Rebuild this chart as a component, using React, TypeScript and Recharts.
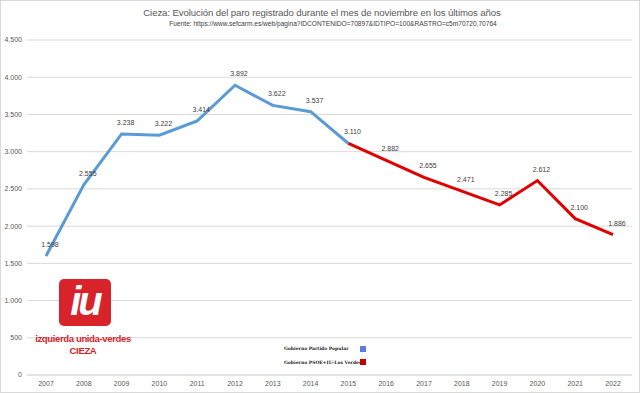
import { CartesianGrid, LabelList, Line, LineChart, XAxis, YAxis } from 'recharts';

const years = ['2007', '2008', '2009', '2010', '2011', '2012', '2013', '2014', '2015', '2016', '2017', '2018', '2019', '2020', '2021', '2022'];
const ppValues = [1598, 2555, 3238, 3222, 3414, 3892, 3622, 3537, 3110, null, null, null, null, null, null, null];
const psoeValues = [null, null, null, null, null, null, null, null, 3110, 2882, 2655, 2471, 2285, 2612, 2100, 1886];
const yTicks = [0, 500, 1000, 1500, 2000, 2500, 3000, 3500, 4000, 4500];

const chartData = years.map((year, i) => ({ year, pp: ppValues[i], psoe: psoeValues[i] }));

const fmt = (v: number) => v.toLocaleString('de-DE');

const font = '"Liberation Sans", Arial, sans-serif';

function PointLabel(props: any) {
  const { x, y, value, index, skip } = props;
  if (value == null || index === skip) return null;
  return (
    <text x={x + 4} y={y - 9} textAnchor="middle" fontSize={7} fill="#404040" fontFamily={font}>
      {fmt(value)}
    </text>
  );
}

export default function App() {
  return (
    <div style={{ position: 'fixed', left: 0, top: 0, width: 640, height: 393, background: '#fff', boxSizing: 'border-box', border: '1px solid #d9d9d9' }}>
      <div style={{ position: 'absolute', left: 0, top: 6, width: 642, textAlign: 'center', fontFamily: font, fontSize: 9.6, color: '#595959', letterSpacing: -0.1 }}>
        Cieza: Evolución del paro registrado durante el mes de noviembre en los últimos años
      </div>
      <div style={{ position: 'absolute', left: 0, top: 19, width: 664, textAlign: 'center', fontFamily: font, fontSize: 6.6, color: '#404040' }}>
        Fuente: https://www.sefcarm.es/web/pagina?IDCONTENIDO=70897&amp;IDTIPO=100&amp;RASTRO=c5m70720,70764
      </div>
      <div style={{ position: 'absolute', left: -1, top: -1 }}>
        <LineChart width={640} height={393} data={chartData} margin={{ top: 40, right: 8, bottom: 0, left: 0 }}>
          <CartesianGrid vertical={false} stroke="#d9d9d9" />
          <XAxis
            dataKey="year"
            padding={{ left: 19, right: 19 }}
            axisLine={{ stroke: '#d9d9d9' }}
            tickLine={false}
            tickSize={0}
            tickMargin={6}
            height={18}
            interval={0}
            tick={{ fontSize: 7, fill: '#595959', fontFamily: font }}
          />
          <YAxis
            width={27}
            domain={[0, 4500]}
            ticks={yTicks}
            interval={0}
            axisLine={false}
            tickLine={false}
            tickSize={0}
            tickMargin={5}
            tickFormatter={fmt}
            tick={{ fontSize: 7, fill: '#595959', fontFamily: font }}
          />
          <Line dataKey="pp" stroke="#5b9bd5" strokeWidth={3} dot={false} isAnimationActive={false} connectNulls={false}>
            <LabelList dataKey="pp" content={(p: any) => <PointLabel {...p} skip={-1} />} />
          </Line>
          <Line dataKey="psoe" stroke="#e00000" strokeWidth={3} dot={false} isAnimationActive={false} connectNulls={false}>
            <LabelList dataKey="psoe" content={(p: any) => <PointLabel {...p} skip={8} />} />
          </Line>
        </LineChart>
      </div>
      {/* logo */}
      <div style={{ position: 'absolute', left: 58, top: 278, width: 52, height: 47, background: '#d8232a', borderRadius: 5, color: '#fff', fontFamily: font, fontWeight: 'bold', fontStyle: 'italic', fontSize: 40, lineHeight: '44px', textAlign: 'center', letterSpacing: -3 }}>
        iu
      </div>
      <div style={{ position: 'absolute', left: 20, top: 332, width: 124, textAlign: 'center', fontFamily: font, fontWeight: 'bold', fontSize: 9.6, lineHeight: '12px', color: '#d8232a', letterSpacing: -0.4 }}>
        izquierda unida-verdes
        <br />
        CIEZA
      </div>
      {/* legend */}
      <div style={{ position: 'absolute', left: 283, top: 344, fontFamily: '"DejaVu Serif", serif', fontWeight: 'bold', fontSize: 4.5, color: '#222', lineHeight: '8px' }}>
        Gobierno Partido Popular
      </div>
      <div style={{ position: 'absolute', left: 359, top: 345, width: 6, height: 6, background: '#5b7fe0' }} />
      <div style={{ position: 'absolute', left: 283, top: 358, fontFamily: '"DejaVu Serif", serif', fontWeight: 'bold', fontSize: 4.5, color: '#222', lineHeight: '8px' }}>
        Gobierno PSOE+IU-Los Verdes
      </div>
      <div style={{ position: 'absolute', left: 359, top: 358, width: 6, height: 6, background: '#c00000' }} />
    </div>
  );
}
